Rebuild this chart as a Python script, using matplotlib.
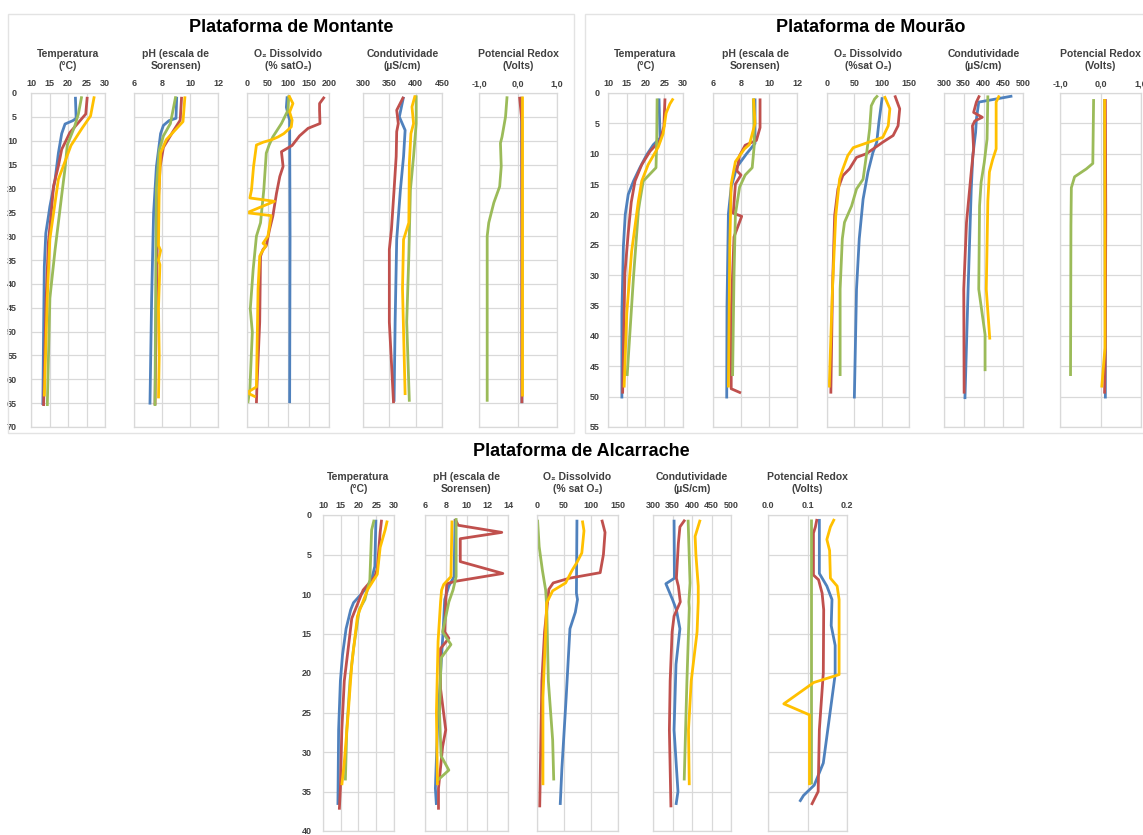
import matplotlib
matplotlib.use("Agg")
import matplotlib.pyplot as plt
from matplotlib.patches import Rectangle

plt.rcParams['font.family'] = ['Liberation Sans', 'DejaVu Sans']

W, H = 1143, 835

BLUE = "#4F81BD"
RED = "#C0504D"
GREEN = "#9BBB59"
YELLOW = "#FFC000"
GRID = "#d9d9d9"
TXT = "#404040"

# ---------------- Plataforma de Montante ----------------
mon_temp_blue_z = [0.8, 5.3, 5.8, 6.5, 8.5, 12.6, 18.2, 23.8, 25.9, 29.4, 36.4, 50, 65.4]
mon_temp_blue = [22.0, 22.2, 21.3, 19.2, 18.3, 17.4, 16.5, 15.1, 14.7, 14.0, 13.6, 13.4, 13.2]
mon_temp_red_z = [0.8, 4.4, 8.3, 10.4, 11.8, 15.3, 19.5, 26.5, 31.3, 43, 65.6]
mon_temp_red = [25.2, 24.8, 20.5, 19.2, 18.3, 17.4, 16.1, 15.3, 14.7, 14.1, 13.4]
mon_temp_green_z = [0.7, 4.4, 7.0, 10.9, 15.8, 21.4, 25.9, 32.9, 43, 65.6]
mon_temp_green = [23.7, 22.8, 21.8, 19.8, 19.2, 18.3, 17.6, 16.5, 15.1, 14.4]
mon_temp_yellow_z = [0.7, 4.8, 7.5, 11.0, 18.1, 30.6, 43, 63.6]
mon_temp_yellow = [27.1, 26.1, 23.7, 20.8, 17.4, 15.1, 14.4, 13.6]

mon_ph_blue_z = [0.8, 5.3, 5.8, 6.8, 8.5, 15.5, 25.2, 43, 65.3]
mon_ph_blue = [9.05, 9.0, 8.5, 8.1, 7.9, 7.6, 7.4, 7.26, 7.14]
mon_ph_red_z = [0.8, 5.7, 8.0, 11.4, 15.5, 25, 43, 65.4]
mon_ph_red = [9.4, 9.3, 8.8, 8.1, 7.86, 7.7, 7.6, 7.5]
mon_ph_green_z = [0.7, 6.4, 9.0, 12, 20, 40, 65.6]
mon_ph_green = [8.98, 8.6, 8.1, 7.8, 7.6, 7.55, 7.5]
mon_ph_yellow_z = [0.7, 6.0, 9.8, 12.6, 20, 32, 33, 35, 36, 45, 55, 64]
mon_ph_yellow = [9.64, 9.5, 8.3, 7.9, 7.8, 7.75, 7.9, 7.75, 7.85, 7.75, 7.8, 7.75]

mon_o2_blue_z = [0.7, 3, 5.7, 30, 65]
mon_o2_blue = [98, 96, 104, 105, 104]
mon_o2_red_z = [0.8, 2.2, 3.6, 6.4, 7.4, 9, 11, 12.3, 15.4, 17.5, 21, 25.8, 28.6, 32,
                32.8, 34.2, 48, 62, 65]
mon_o2_red = [189, 177, 177, 178, 149, 128, 110, 84, 88, 80, 72, 63, 55, 47,
              39, 33, 31, 24, 23]
mon_o2_green_z = [0.5, 3.6, 6.4, 9.2, 10.9, 12.6, 20.3, 27.2, 30, 37, 45.3, 50.1, 62, 65]
mon_o2_green = [102, 100, 84, 63, 54, 47, 41, 33, 23, 15, 8, 13, 7, 2]
mon_o2_yellow_z = [0.5, 2.2, 4, 5.7, 7.1, 8.5, 9.2, 9.8, 10.3, 10.9, 15.4, 20.3, 22, 22.7,
                   25.1, 25.7, 30, 31.5, 32, 33.5, 34.2, 41, 61.6, 62.8, 63.7]
mon_o2_yellow = [102, 112, 104, 110, 108, 90, 76, 60, 40, 23, 16, 11, 7, 67,
                 0, 59, 51, 39, 46, 35, 31, 27, 23, 0, 21]

mon_cond_blue_z = [0.8, 5, 7.8, 13.3, 20.3, 30.7, 48, 64.7]
mon_cond_blue = [377, 369, 380, 377, 371, 364, 361, 359]
mon_cond_red_z = [0.8, 3.6, 6.4, 8.1, 13.3, 20.3, 28.6, 32.8, 48, 65]
mon_cond_red = [377, 364, 367, 364, 363, 359, 354, 350, 350, 358]
mon_cond_green_z = [0.5, 6.4, 13.3, 20.3, 34.2, 48, 64.7]
mon_cond_green = [401, 401, 396, 390, 387, 383, 388]
mon_cond_yellow_z = [0.5, 2.9, 6.4, 8.5, 14.7, 27.2, 30.7, 41, 63.3]
mon_cond_yellow = [399, 393, 396, 391, 388, 387, 377, 375, 380]

mon_redox_blue_z = [0.8, 30, 65]
mon_redox_blue = [0.09, 0.1, 0.1]
mon_redox_red_z = [0.8, 6, 65]
mon_redox_red = [0.04, 0.1, 0.1]
mon_redox_green_z = [0.7, 5, 9.2, 10.5, 15.4, 19.6, 23, 27.2, 30, 64.7]
mon_redox_green = [-0.28, -0.32, -0.41, -0.45, -0.43, -0.47, -0.62, -0.75, -0.79, -0.79]
mon_redox_yellow_z = [0.7, 20, 63.5]
mon_redox_yellow = [0.1, 0.1, 0.1]

# ---------------- Plataforma de Mourão ----------------
mou_temp_blue_z = [0.9, 7.4, 8.5, 10.2, 12.3, 14.5, 16.7, 20, 25.3, 36.3, 50.3]
mou_temp_blue = [23.6, 23.9, 22.1, 20.3, 18.5, 16.8, 15.4, 14.6, 14.1, 13.7, 13.7]
mou_temp_red_z = [0.9, 5.5, 7.8, 9.6, 11.8, 14.5, 18, 23, 29.7, 49.5]
mou_temp_red = [25.2, 24.9, 23.9, 21.2, 19.0, 17.2, 16.2, 15.4, 14.5, 13.9]
mou_temp_green_z = [0.9, 7.5, 12.3, 14.5, 17.8, 19.4, 30.3, 46.6]
mou_temp_green = [23.1, 23.0, 22.8, 19.4, 18.5, 18.1, 16.8, 15.1]
mou_temp_yellow_z = [0.9, 1.8, 3.3, 6.7, 8.9, 11.8, 14.5, 17.8, 26.1, 36.3, 48.5]
mou_temp_yellow = [27.4, 26.5, 25.5, 24.7, 23.4, 20.7, 19.0, 18.1, 16.3, 15.0, 14.3]

mou_ph_blue_z = [0.9, 8.3, 10, 12.2, 15.5, 19.9, 35, 50.3]
mou_ph_blue = [9.0, 9.0, 8.4, 7.7, 7.3, 7.1, 7.0, 6.98]
mou_ph_red_z = [0.9, 5.7, 7.8, 8.6, 10.3, 12.8, 13.5, 15, 19.8, 20.3, 23.7, 36, 48.7, 49.4]
mou_ph_red = [9.36, 9.36, 9.1, 8.3, 7.9, 7.7, 8.0, 7.6, 7.45, 8.05, 7.5, 7.3, 7.3, 8.0]
mou_ph_green_z = [0.9, 8.5, 12.3, 13.5, 15.5, 20, 30, 46.6]
mou_ph_green = [8.88, 8.95, 8.8, 8.3, 7.9, 7.6, 7.5, 7.4]
mou_ph_yellow_z = [0.9, 5, 8.5, 9.2, 11.3, 15, 25, 48.5]
mou_ph_yellow = [8.9, 9.0, 8.6, 8.25, 7.6, 7.3, 7.2, 7.1]

mou_o2_blue_z = [0.7, 4.8, 8.1, 9.8, 13, 17.5, 24, 32.3, 50.3]
mou_o2_blue = [101, 95, 91, 84, 75, 66, 59, 54, 50]
mou_o2_red_z = [0.4, 2.6, 5.4, 7, 8.1, 10, 10.6, 12.5, 13.6, 15.8, 20.2, 32.3, 49.5]
mou_o2_red = [124, 133, 130, 121, 102, 72, 54, 41, 29, 20, 14, 10, 7]
mou_o2_green_z = [0.4, 1, 2.1, 5.9, 10.3, 14.2, 15.8, 18.6, 21.3, 24, 32.3, 46.6]
mou_o2_green = [93, 87, 81, 78, 72, 66, 54, 45, 32, 28, 24, 24]
mou_o2_yellow_z = [0.5, 2.6, 5.4, 7.3, 9, 10.3, 12.5, 14.2, 20.2, 32.3, 48.5]
mou_o2_yellow = [105, 115, 112, 102, 48, 38, 29, 23, 16, 10, 4]

mou_cond_blue_z = [0.5, 1.5, 4.3, 6.5, 10.3, 15.8, 32.3, 50.4]
mou_cond_blue = [473, 388, 382, 380, 373, 369, 361, 353]
mou_cond_red_z = [0.4, 1.5, 3.2, 4.0, 4.6, 5.4, 9.2, 13, 21.3, 32.3, 49.5]
mou_cond_red = [390, 382, 375, 397, 378, 372, 375, 369, 357, 350, 351]
mou_cond_green_z = [0.4, 7.6, 11.4, 14.7, 18.6, 32.3, 39.8, 45.8]
mou_cond_green = [411, 409, 402, 394, 390, 388, 404, 404]
mou_cond_yellow_z = [0.4, 1.5, 9.2, 11, 13, 17.8, 32.3, 40.6]
mou_cond_yellow = [440, 432, 432, 423, 415, 411, 407, 416]

mou_redox_blue_z = [1, 20, 40, 50.3]
mou_redox_blue = [0.1, 0.11, 0.12, 0.12]
mou_redox_red_z = [1, 20, 42, 49.5]
mou_redox_red = [0.12, 0.13, 0.12, 0.1]
mou_redox_green_z = [1, 11.6, 12.5, 13.8, 15.6, 21.8, 46.6]
mou_redox_green = [-0.17, -0.19, -0.35, -0.64, -0.72, -0.73, -0.74]
mou_redox_yellow_z = [1, 20, 42, 48.5]
mou_redox_yellow = [0.1, 0.11, 0.11, 0.03]

# ---------------- Plataforma de Alcarrache ----------------
alc_temp_blue_z = [0.6, 6.5, 8.5, 9.9, 11.1, 12, 14.4, 17.7, 21, 27.2, 36.7]
alc_temp_blue = [24.9, 24.6, 23.5, 21.0, 18.6, 17.8, 16.5, 15.5, 14.9, 14.4, 14.2]
alc_temp_red_z = [0.6, 2.2, 6.8, 7.8, 9.5, 13.1, 16.9, 21, 27.2, 34.6, 37.3]
alc_temp_red = [26.5, 26.1, 25.3, 24.6, 21.3, 18.1, 17.1, 16.0, 15.3, 14.9, 14.6]
alc_temp_green_z = [0.6, 1.9, 8.2, 10.7, 12, 16.9, 21, 27.2, 33.6]
alc_temp_green = [24.4, 23.7, 23.2, 21.8, 20.2, 18.6, 17.6, 16.7, 16.3]
alc_temp_yellow_z = [0.7, 1.9, 4.1, 7.5, 9.5, 12.8, 18.9, 25.1, 31.3, 34.2]
alc_temp_yellow = [28.1, 27.5, 26.1, 25.3, 22.5, 19.7, 18.1, 17.1, 16.0, 15.3]

alc_ph_blue_z = [0.5, 7.8, 9, 10.7, 14.8, 18.9, 27.2, 34.6, 36.7]
alc_ph_blue = [8.9, 8.8, 8.3, 7.9, 7.74, 7.55, 7.2, 7.0, 7.1]
alc_ph_red_z = [0.5, 1.3, 2.2, 3.0, 5.9, 7.4, 8.4, 8.7, 11, 14.8, 15.6, 16.9, 22, 27.2, 29.3, 34.6, 37.3]
alc_ph_red = [8.9, 9.2, 13.4, 9.4, 9.4, 13.5, 8.9, 8.1, 8.0, 7.9, 8.3, 7.5, 7.5, 8.0, 7.7, 7.3, 7.3]
alc_ph_green_z = [0.4, 7.8, 9.5, 11, 14.8, 16.4, 18.1, 25, 30.5, 32.3, 33.6]
alc_ph_green = [9.0, 9.0, 8.7, 8.3, 7.7, 8.5, 7.55, 7.4, 7.55, 8.3, 7.2]
alc_ph_yellow_z = [0.7, 7.8, 8.8, 9.5, 11, 16, 25, 34.2]
alc_ph_yellow = [8.6, 8.5, 7.8, 7.6, 7.5, 7.26, 7.1, 7.2]

alc_o2_blue_z = [0.6, 9.9, 10.7, 12.3, 14.4, 23.1, 32.2, 36.7]
alc_o2_blue = [74, 73, 75, 71, 61, 54, 46, 43]
alc_o2_red_z = [0.6, 2.2, 5, 7.3, 8.0, 8.6, 9.4, 10.7, 14.8, 21, 37]
alc_o2_red = [120, 126, 123, 117, 60, 30, 22, 20, 14, 9, 5]
alc_o2_green_z = [0.6, 4, 7, 9.5, 11.6, 21, 28.5, 33.6]
alc_o2_green = [1, 4, 10, 16, 18, 21, 29, 31]
alc_o2_yellow_z = [0.7, 2, 4.8, 6, 7, 8.6, 9.6, 11.1, 14.8, 23.1, 34.2]
alc_o2_yellow = [84, 87, 83, 74, 65, 53, 29, 18, 16, 11, 11]

alc_cond_blue_z = [0.6, 8, 8.7, 10.7, 12, 14.4, 18.9, 27.2, 35, 36.7]
alc_cond_blue = [354, 355, 333, 350, 360, 369, 359, 354, 364, 359]
alc_cond_red_z = [0.6, 1.5, 3.6, 8, 9, 11, 12.8, 14.8, 21, 27.2, 37]
alc_cond_red = [382, 369, 365, 360, 365, 370, 354, 349, 344, 342, 346]
alc_cond_green_z = [0.6, 8.6, 11, 11.8, 21, 33.6]
alc_cond_green = [390, 395, 392, 393, 387, 380]
alc_cond_yellow_z = [0.6, 2.7, 5, 9, 11, 14.8, 21, 27.2, 34.2]
alc_cond_yellow = [421, 408, 410, 416, 416, 413, 398, 391, 393]

alc_redox_blue_z = [0.5, 7.4, 9, 10.7, 14, 16.5, 20.2, 31.4, 34.2, 35.5, 36.3]
alc_redox_blue = [0.13, 0.13, 0.149, 0.162, 0.16, 0.17, 0.17, 0.14, 0.117, 0.09, 0.08]
alc_redox_red_z = [0.5, 1.5, 2.3, 7.6, 8.2, 9.9, 12, 20, 27.2, 35, 36.7]
alc_redox_red = [0.124, 0.12, 0.115, 0.115, 0.128, 0.137, 0.141, 0.14, 0.13, 0.127, 0.11]
alc_redox_green_z = [0.5, 34]
alc_redox_green = [0.109, 0.109]
alc_redox_yellow_z = [0.5, 1.5, 3.1, 4.5, 8, 9, 10.7, 20.2, 21.2, 23.9, 25.3, 34.2]
alc_redox_yellow = [0.168, 0.158, 0.149, 0.156, 0.158, 0.175, 0.18, 0.18, 0.116, 0.04, 0.105, 0.105]

# axis settings
temp_ticks = [10, 15, 20, 25, 30]
ph_ticks_top = [6, 8, 10, 12]
ph_ticks_alc = [6, 8, 10, 12, 14]
o2_ticks_mon = [0, 50, 100, 150, 200]
o2_ticks = [0, 50, 100, 150]
cond_ticks_mon = [300, 350, 400, 450]
cond_ticks = [300, 350, 400, 450, 500]
redox_ticks = [-1, 0, 1]
redox_labels = ["-1,0", "0,0", "1,0"]
redox_ticks_alc = [0.0, 0.1, 0.2]
redox_labels_alc = ["0.0", "0.1", "0.2"]

fig = plt.figure(figsize=(W / 100, H / 100), dpi=100)


def add_ax(x0, x1, y0, y1):
    return fig.add_axes([x0 / W, 1 - y1 / H, (x1 - x0) / W, (y1 - y0) / H])


def profile(ax, series, xlim, xticks, xlabels, zmax, title, ylabels, ypad, title_y):
    for z, v, c in series:
        ax.plot(v, z, color=c, lw=2.0, solid_joinstyle="round", solid_capstyle="butt")
    ax.set_xlim(*xlim)
    ax.set_ylim(zmax, 0)
    ax.set_xticks(xticks)
    ax.set_xticklabels(xlabels if xlabels else [str(t) for t in xticks])
    ax.set_yticks(range(0, zmax + 1, 5))
    ax.xaxis.tick_top()
    ax.grid(True, color=GRID, lw=0.9)
    ax.set_axisbelow(True)
    for s in ax.spines.values():
        s.set_color(GRID)
        s.set_linewidth(0.9)
    ax.tick_params(length=0, labelsize=6.5, labelcolor=TXT, pad=3.5)
    ax.tick_params(axis="y", pad=ypad)
    for lab in ax.get_xticklabels() + ax.get_yticklabels():
        lab.set_fontweight("bold")
    if not ylabels:
        ax.set_yticklabels([])
    bb = ax.get_position()
    fig.text(bb.x0 + bb.width / 2, 1 - title_y / H, title, ha="center", va="center",
             fontsize=7.5, fontweight="bold", color=TXT, linespacing=1.15)


def station(cols, y0, y1, zmax, specs, title_y, ypad):
    for i, ((x0, x1), spec) in enumerate(zip(cols, specs)):
        ax = add_ax(x0, x1, y0, y1)
        profile(ax, spec[0], spec[1], spec[2], spec[3], zmax, spec[4], i == 0, ypad, title_y)


def four(bz, b, rz, r, gz, g, yz, y):
    return [(bz, b, BLUE), (rz, r, RED), (gz, g, GREEN), (yz, y, YELLOW)]


titles_mon = ["Temperatura\n(°C)", "pH (escala de\nSorensen)", "O₂ Dissolvido\n(% satO₂)",
              "Condutividade\n(µS/cm)", "Potencial Redox\n(Volts)"]
titles_mou = ["Temperatura\n(°C)", "pH (escala de\nSorensen)", "O₂ Dissolvido\n(%sat O₂)",
              "Condutividade\n(µS/cm)", "Potencial Redox\n(Volts)"]
titles_alc = ["Temperatura\n(°C)", "pH (escala de\nSorensen)", "O₂ Dissolvido\n(% sat O₂)",
              "Condutividade\n(µS/cm)", "Potencial Redox\n(Volts)"]

# frames around the two upper panels
for (fx0, fx1) in [(8, 574), (585, 1150)]:
    fig.patches.append(Rectangle((fx0 / W, 1 - 433 / H), (fx1 - fx0) / W, (433 - 14) / H,
                                 transform=fig.transFigure, fill=False, ec="#e3e3e3", lw=1))

# Montante
station([(31, 105), (134, 218), (247, 329), (363, 442), (479, 557)], 93, 427, 70, [
    (four(mon_temp_blue_z, mon_temp_blue, mon_temp_red_z, mon_temp_red,
          mon_temp_green_z, mon_temp_green, mon_temp_yellow_z, mon_temp_yellow),
     (10, 30), temp_ticks, None, titles_mon[0]),
    (four(mon_ph_blue_z, mon_ph_blue, mon_ph_red_z, mon_ph_red,
          mon_ph_green_z, mon_ph_green, mon_ph_yellow_z, mon_ph_yellow),
     (6, 12), ph_ticks_top, None, titles_mon[1]),
    (four(mon_o2_blue_z, mon_o2_blue, mon_o2_red_z, mon_o2_red,
          mon_o2_green_z, mon_o2_green, mon_o2_yellow_z, mon_o2_yellow),
     (0, 200), o2_ticks_mon, None, titles_mon[2]),
    (four(mon_cond_blue_z, mon_cond_blue, mon_cond_red_z, mon_cond_red,
          mon_cond_green_z, mon_cond_green, mon_cond_yellow_z, mon_cond_yellow),
     (300, 450), cond_ticks_mon, None, titles_mon[3]),
    (four(mon_redox_blue_z, mon_redox_blue, mon_redox_red_z, mon_redox_red,
          mon_redox_green_z, mon_redox_green, mon_redox_yellow_z, mon_redox_yellow),
     (-1, 1), redox_ticks, redox_labels, titles_mon[4]),
], 60, 10)

# Mourão
station([(608, 683), (713, 797), (827, 909), (944, 1023), (1060, 1141)], 93, 427, 55, [
    (four(mou_temp_blue_z, mou_temp_blue, mou_temp_red_z, mou_temp_red,
          mou_temp_green_z, mou_temp_green, mou_temp_yellow_z, mou_temp_yellow),
     (10, 30), temp_ticks, None, titles_mou[0]),
    (four(mou_ph_blue_z, mou_ph_blue, mou_ph_red_z, mou_ph_red,
          mou_ph_green_z, mou_ph_green, mou_ph_yellow_z, mou_ph_yellow),
     (6, 12), ph_ticks_top, None, titles_mou[1]),
    (four(mou_o2_blue_z, mou_o2_blue, mou_o2_red_z, mou_o2_red,
          mou_o2_green_z, mou_o2_green, mou_o2_yellow_z, mou_o2_yellow),
     (0, 150), o2_ticks, None, titles_mou[2]),
    (four(mou_cond_blue_z, mou_cond_blue, mou_cond_red_z, mou_cond_red,
          mou_cond_green_z, mou_cond_green, mou_cond_yellow_z, mou_cond_yellow),
     (300, 500), cond_ticks, None, titles_mou[3]),
    (four(mou_redox_blue_z, mou_redox_blue, mou_redox_red_z, mou_redox_red,
          mou_redox_green_z, mou_redox_green, mou_redox_yellow_z, mou_redox_yellow),
     (-1, 1), redox_ticks, redox_labels, titles_mou[4]),
], 60, 6)

# Alcarrache
station([(323, 394), (425, 508), (537, 618), (653, 731), (768, 847)], 515, 831, 40, [
    (four(alc_temp_blue_z, alc_temp_blue, alc_temp_red_z, alc_temp_red,
          alc_temp_green_z, alc_temp_green, alc_temp_yellow_z, alc_temp_yellow),
     (10, 30), temp_ticks, None, titles_alc[0]),
    (four(alc_ph_blue_z, alc_ph_blue, alc_ph_red_z, alc_ph_red,
          alc_ph_green_z, alc_ph_green, alc_ph_yellow_z, alc_ph_yellow),
     (6, 14), ph_ticks_alc, None, titles_alc[1]),
    (four(alc_o2_blue_z, alc_o2_blue, alc_o2_red_z, alc_o2_red,
          alc_o2_green_z, alc_o2_green, alc_o2_yellow_z, alc_o2_yellow),
     (0, 150), o2_ticks, None, titles_alc[2]),
    (four(alc_cond_blue_z, alc_cond_blue, alc_cond_red_z, alc_cond_red,
          alc_cond_green_z, alc_cond_green, alc_cond_yellow_z, alc_cond_yellow),
     (300, 500), cond_ticks, None, titles_alc[3]),
    (four(alc_redox_blue_z, alc_redox_blue, alc_redox_red_z, alc_redox_red,
          alc_redox_green_z, alc_redox_green, alc_redox_yellow_z, alc_redox_yellow),
     (0, 0.2), redox_ticks_alc, redox_labels_alc, titles_alc[4]),
], 483, 8)

# panel titles
for tx, ty, txt in [(291, 27, "Plataforma de Montante"),
                    (871, 27, "Plataforma de Mourão"),
                    (581, 452, "Plataforma de Alcarrache")]:
    fig.text(tx / W, 1 - ty / H, txt, ha="center", va="center",
             fontsize=13, fontweight="bold", color="black")

fig.savefig("out.png", dpi=100, facecolor="white")
